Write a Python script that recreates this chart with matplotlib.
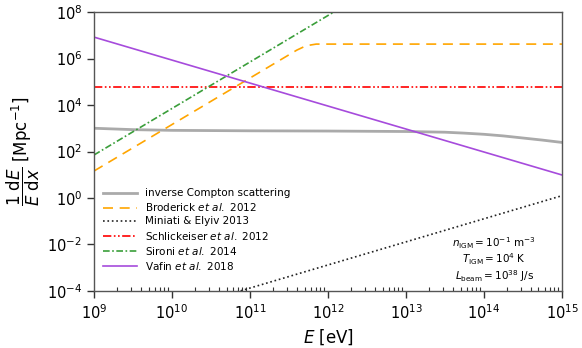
import numpy as np
import matplotlib
matplotlib.use("Agg")
import matplotlib.pyplot as plt

plt.rcParams['font.family'] = ['DejaVu Sans']
plt.rcParams['mathtext.fontset'] = 'dejavusans'

# values (log10 E [eV], log10 of 1/E dE/dx [Mpc^-1])
ic_logE = [9, 9.5, 10, 11, 12, 13, 13.5, 13.75, 14, 14.25, 14.5, 14.75, 15]
ic_logy = [3.0, 2.94, 2.91, 2.89, 2.88, 2.86, 2.83, 2.79, 2.74, 2.67, 2.58, 2.49, 2.39]

brod_logE = [9, 11.6, 11.72, 11.85, 15]
brod_logy = [1.16, 6.36, 6.55, 6.62, 6.62]

mini_logE = [10.5, 15]
mini_logy = [-4.37, 0.1]

schl_logE = [9, 15]
schl_logy = [4.77, 4.77]

sir_logE = [9, 12.2]
sir_logy = [1.85, 8.25]

vaf_logE = [9, 15]
vaf_logy = [6.92, 0.99]

labels = ["inverse Compton scattering",
          r"Broderick $et\ al.$ 2012",
          "Miniati & Elyiv 2013",
          r"Schlickeiser $et\ al.$ 2012",
          r"Sironi $et\ al.$ 2014",
          r"Vafin $et\ al.$ 2018"]


def p10(a):
    return 10 ** np.array(a, dtype=float)


fig = plt.figure(figsize=(5.82, 3.48), dpi=100)
ax = fig.add_axes([0.1615, 0.1638, 0.8041, 0.8017])

ax.plot(p10(ic_logE), p10(ic_logy), color='#aaaaaa', lw=2.0, label=labels[0])
ax.plot(p10(brod_logE), p10(brod_logy), color='orange', lw=1.2,
        dashes=(6, 4), label=labels[1])
ax.plot(p10(mini_logE), p10(mini_logy), color='#222222', lw=1.2,
        ls=':', label=labels[2])
ax.plot(p10(schl_logE), p10(schl_logy), color='red', lw=1.2,
        dashes=(5, 1.5, 1, 1.5, 1, 1.5), label=labels[3])
ax.plot(p10(sir_logE), p10(sir_logy), color='#3a9e3a', lw=1.2,
        dashes=(4, 1.5, 1, 1.5), label=labels[4])
ax.plot(p10(vaf_logE), p10(vaf_logy), color='#a64bdc', lw=1.2, label=labels[5])

ax.set_xscale('log')
ax.set_yscale('log')
ax.set_xlim(1e9, 1e15)
ax.set_ylim(1e-4, 1e8)
ax.yaxis.set_major_locator(matplotlib.ticker.LogLocator(base=100, numticks=10))
ax.yaxis.set_minor_locator(matplotlib.ticker.NullLocator())
ax.xaxis.set_minor_formatter(matplotlib.ticker.NullFormatter())

for s in ax.spines.values():
    s.set_color('#555555')
    s.set_linewidth(1.0)
ax.tick_params(axis='both', which='major', direction='out', length=5,
               width=1, color='#333333', labelsize=10.5)
ax.tick_params(axis='x', which='minor', direction='in', length=3,
               width=0.8, color='#333333')

ax.set_xlabel(r'$E$ [eV]', fontsize=12)
ax.set_ylabel(r'$\dfrac{1\ \mathrm{d}E}{E\ \mathrm{d}x}$ [Mpc$^{-1}$]',
              fontsize=12)
ax.yaxis.set_label_coords(-0.112, 0.5)

ax.legend(loc='lower left', bbox_to_anchor=(0.0, 0.035), frameon=False,
          fontsize=7.5, handlelength=3.2, labelspacing=0.3)

ax.text(0.855, 0.172, r'$n_\mathrm{IGM} = 10^{-1}$ m$^{-3}$', transform=ax.transAxes,
        ha='center', va='center', fontsize=7.5)
ax.text(0.855, 0.115, r'$T_\mathrm{IGM} = 10^{4}$ K', transform=ax.transAxes,
        ha='center', va='center', fontsize=7.5)
ax.text(0.855, 0.054, r'$L_\mathrm{beam} = 10^{38}$ J/s', transform=ax.transAxes,
        ha='center', va='center', fontsize=7.5)

fig.savefig('out.png', dpi=100)
